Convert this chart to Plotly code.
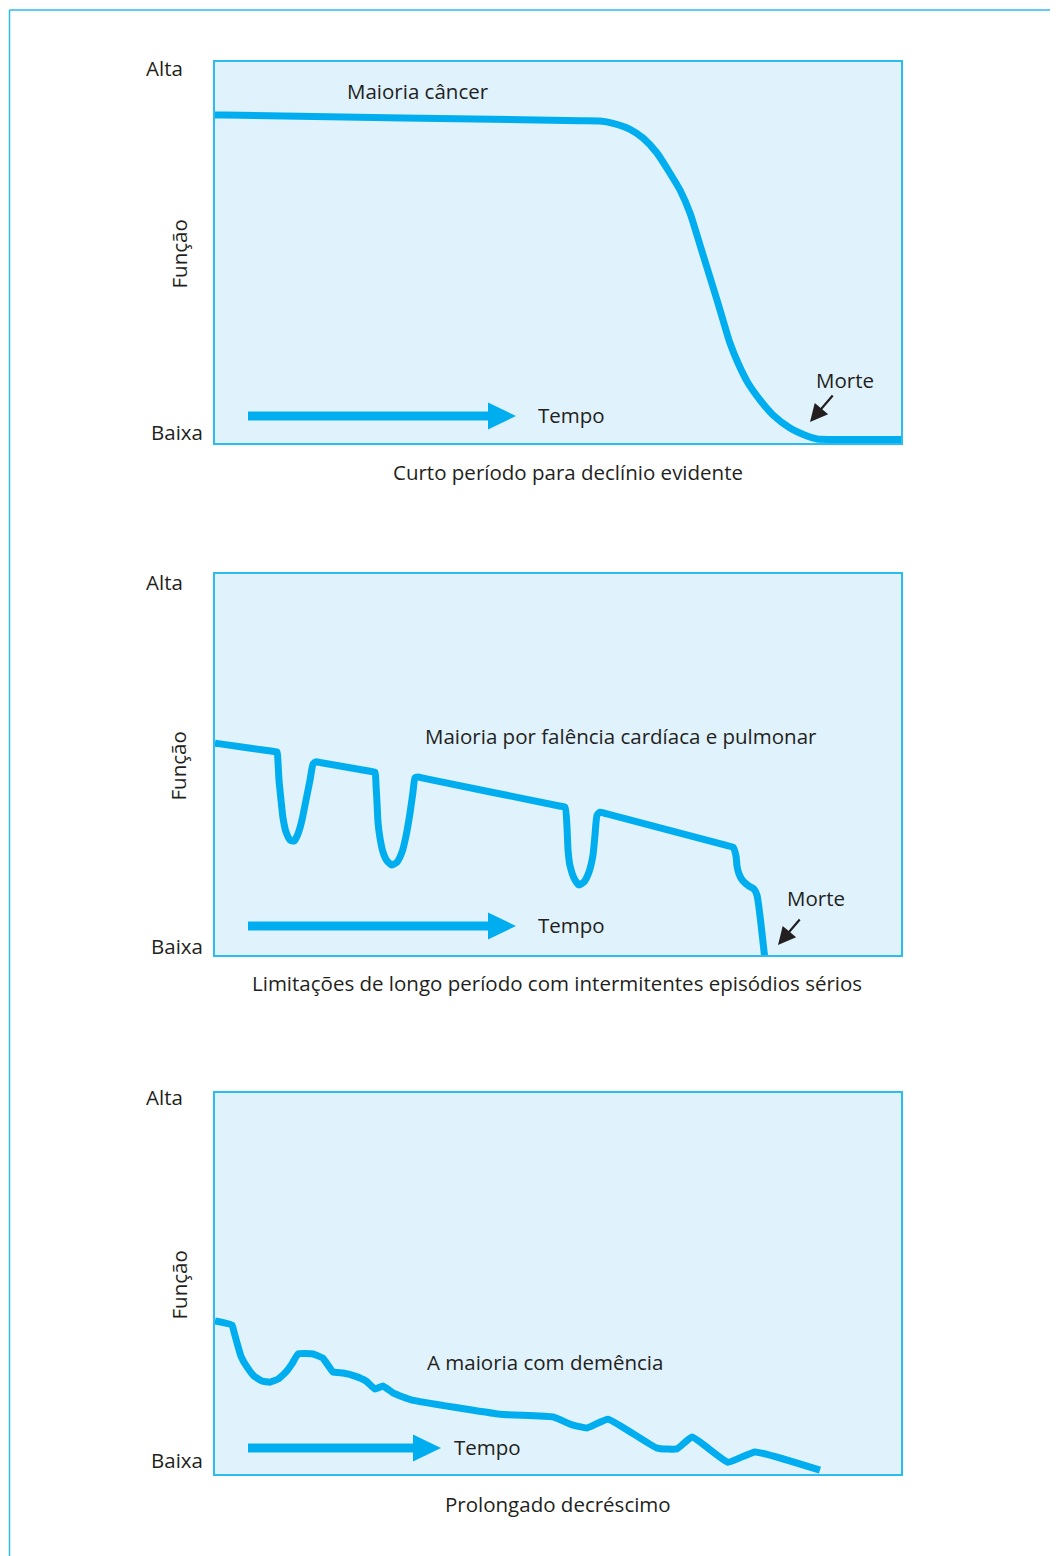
import plotly.graph_objects as go

W, H = 1058, 1556

# ---------------- data (time 0-100, function 0-100) ----------------
p1_time = [0, 1.5, 53.21, 56.12, 58.02, 60.50, 62.39, 64.43, 66.03, 67.78, 69.24, 70.70, 73.18,
           74.05, 75.07, 76.24, 77.70, 79.45, 81.34, 83.82, 86.30, 87.76, 91.11, 98.5, 100]
p1_func = [86.09, 86.06, 84.59, 84.51, 83.91, 82.34, 80.05, 76.12, 71.65, 66.40, 60.37, 51.97, 37.53,
           32.28, 26.25, 21.00, 15.75, 11.29, 7.35, 3.94, 1.84, 1.05, 0.92, 0.92, 0.92]

p2_time = [0, 1.0, 8.4, 9.04, 9.18, 9.33, 9.62, 9.91, 10.35, 10.93, 11.52, 12.10, 12.68, 13.27, 13.85, 14.29, 14.72,
           15.5, 22.6, 23.32, 23.47, 23.62, 23.76, 24.05, 24.49, 25.07, 25.80, 26.53, 27.26, 27.84, 28.43, 28.86, 29.15, 29.59,
           30.5, 50.2, 51.02, 51.31, 51.46, 51.75, 52.33, 53.06, 53.79, 54.52, 55.10, 55.39, 55.69, 56.12,
           57.0, 74.7, 75.51, 75.95, 76.09, 76.38, 76.97, 77.84, 78.57, 79.01, 80.17]
p2_func = [55.6, 55.35, 53.46, 53.3, 50.7, 45.9, 40.7, 36.0, 32.3, 30.2, 29.9, 31.8, 35.4, 40.7, 45.9, 50.1, 50.7,
           50.46, 48.23, 48.0, 44.6, 39.9, 34.9, 30.7, 27.0, 24.7, 23.6, 24.4, 27.0, 31.2, 37.3, 42.8, 46.5, 46.7,
           46.36, 39.1, 38.8, 33.6, 27.6, 23.4, 20.2, 18.4, 19.2, 21.8, 26.2, 31.5, 36.7, 37.5,
           37.08, 28.68, 28.3, 26.0, 23.4, 21.3, 19.4, 18.1, 17.3, 15.7, -1.3]

p3_time = [0, 2.48, 2.77, 3.21, 3.79, 4.66, 5.69, 6.85, 8.02, 9.18, 10.35, 11.22, 12.10, 14.29,
           15.74, 17.20, 18.66, 20.41, 22.01, 23.32, 24.49, 25.95, 27.41, 28.72, 41.55, 49.27,
           52.04, 54.23, 57.29, 64.43, 67.35, 69.53, 74.78, 78.72, 88.19]
p3_func = [40.2, 39.1, 37.3, 34.4, 30.9, 28.1, 25.7, 24.4, 24.1, 24.9, 26.8, 28.9, 31.5, 31.5,
           30.4, 26.8, 26.5, 25.7, 24.4, 22.3, 23.1, 21.3, 20.2, 19.4, 15.7, 15.0,
           12.9, 12.1, 14.4, 6.8, 6.6, 9.7, 3.1, 5.8, 1.0]

axis_top_label = "Alta"
axis_bottom_label = "Baixa"
axis_title = "Função"
time_label = "Tempo"
death_label = "Morte"
panel_titles = ["Maioria câncer",
                "Maioria por falência cardíaca e pulmonar",
                "A maioria com demência"]
panel_captions = ["Curto período para declínio evidente",
                  "Limitações de longo período com intermitentes episódios sérios",
                  "Prolongado decréscimo"]

# ---------------- layout helpers ----------------
LINE = "#00AEEF"
BORDER = "#2CBDF0"
BG = "#E0F2FC"
TXT = "#231F20"
FONT = "Open Sans"
OFF = 8  # page body margin

PX_L, PX_R = 215, 901
panels_px = [(62, 443), (574, 955), (1093, 1474)]


def px(x):
    return (x - OFF) / W


def py(y):
    return 1 - (y - OFF) / H


fig = go.Figure()

series = [(p1_time, p1_func, 0.6), (p2_time, p2_func, 0.5), (p3_time, p3_func, 0.35)]
for i, (t, f, sm) in enumerate(series):
    n = "" if i == 0 else str(i + 1)
    fig.add_trace(go.Scatter(x=t, y=f, mode="lines",
                             line=dict(color=LINE, width=7, shape="spline", smoothing=sm),
                             xaxis="x" + n, yaxis="y" + n, showlegend=False,
                             hoverinfo="skip"))

layout = dict(width=W, height=H, margin=dict(l=0, r=0, t=0, b=0),
              paper_bgcolor="white", plot_bgcolor=BG, showlegend=False,
              font=dict(family=FONT, color=TXT, size=20.5))
for i, (top, bot) in enumerate(panels_px):
    n = "" if i == 0 else str(i + 1)
    layout["xaxis" + n] = dict(domain=[px(PX_L), px(PX_R)], range=[0, 100],
                               showgrid=False, zeroline=False, showticklabels=False,
                               ticks="", showline=True, mirror=True, linecolor=BORDER,
                               linewidth=1.5, anchor="y" + n, fixedrange=True)
    layout["yaxis" + n] = dict(domain=[py(bot), py(top)], range=[0, 100],
                               showgrid=False, zeroline=False, showticklabels=False,
                               ticks="", showline=True, mirror=True, linecolor=BORDER,
                               linewidth=1.5, anchor="x" + n, fixedrange=True)
fig.update_layout(**layout)

shapes = []
annotations = []

# outer frame lines
shapes.append(dict(type="line", xref="paper", yref="paper", x0=px(9.5), x1=px(9.5),
                   y0=py(10), y1=0, line=dict(color=BORDER, width=1.5)))
shapes.append(dict(type="line", xref="paper", yref="paper", x0=px(9.5), x1=1,
                   y0=py(10), y1=py(10), line=dict(color=BORDER, width=1.5)))

# per-panel decorations (pixel positions)
arrow_specs = [
    dict(y=416, x0=248, xh=488, x1=516, tempo_x=536, title=(418, 91), cap=(568, 472),
         morte=(845, 380), tip=(810, 422), tail=(834, 394), alta=68, baixa=432),
    dict(y=926, x0=248, xh=488, x1=516, tempo_x=536, title=(621, 736), cap=(557, 983),
         morte=(816, 898), tip=(778, 945), tail=(801, 918), alta=582, baixa=946),
    dict(y=1448, x0=248, xh=413, x1=441, tempo_x=452, title=(545, 1362), cap=(558, 1504),
         morte=None, tip=None, tail=None, alta=1097, baixa=1460),
]

for i, spec in enumerate(arrow_specs):
    top, bot = panels_px[i]
    y = spec["y"]
    # shaft
    shapes.append(dict(type="rect", xref="paper", yref="paper",
                       x0=px(spec["x0"]), x1=px(spec["xh"] + 1),
                       y0=py(y + 4.5), y1=py(y - 4.5),
                       fillcolor=LINE, line=dict(width=0)))
    # head
    path = "M {} {} L {} {} L {} {} Z".format(px(spec["xh"]), py(y - 13.5),
                                               px(spec["x1"]), py(y),
                                               px(spec["xh"]), py(y + 13.5))
    shapes.append(dict(type="path", xref="paper", yref="paper", path=path,
                       fillcolor=LINE, line=dict(width=0)))
    annotations.append(dict(text=time_label, xref="paper", yref="paper",
                            x=px(spec["tempo_x"]), y=py(y - 1), xanchor="left",
                            yanchor="middle", showarrow=False))
    annotations.append(dict(text=panel_titles[i], xref="paper", yref="paper",
                            x=px(spec["title"][0]), y=py(spec["title"][1]),
                            xanchor="center", yanchor="middle", showarrow=False))
    annotations.append(dict(text=panel_captions[i], xref="paper", yref="paper",
                            x=px(spec["cap"][0]), y=py(spec["cap"][1]),
                            xanchor="center", yanchor="middle", showarrow=False))
    annotations.append(dict(text=axis_top_label, xref="paper", yref="paper",
                            x=px(185), y=py(spec["alta"]), xanchor="right",
                            yanchor="middle", showarrow=False))
    annotations.append(dict(text=axis_bottom_label, xref="paper", yref="paper",
                            x=px(205), y=py(spec["baixa"]), xanchor="right",
                            yanchor="middle", showarrow=False))
    annotations.append(dict(text=axis_title, xref="paper", yref="paper",
                            x=px(178), y=py((top + bot) / 2 + 2), xanchor="center",
                            yanchor="middle", textangle=-90, showarrow=False))
    if spec["morte"]:
        annotations.append(dict(text=death_label, xref="paper", yref="paper",
                                x=px(spec["morte"][0]), y=py(spec["morte"][1]),
                                xanchor="center", yanchor="middle", showarrow=False))
        annotations.append(dict(text="", xref="paper", yref="paper",
                                x=px(spec["tip"][0]), y=py(spec["tip"][1]),
                                ax=spec["tail"][0] - spec["tip"][0],
                                ay=spec["tail"][1] - spec["tip"][1],
                                axref="pixel", ayref="pixel",
                                showarrow=True, arrowhead=2, arrowsize=1.6,
                                arrowwidth=2.2, arrowcolor=TXT))

fig.update_layout(shapes=shapes, annotations=annotations)
fig.write_html("out.html")
